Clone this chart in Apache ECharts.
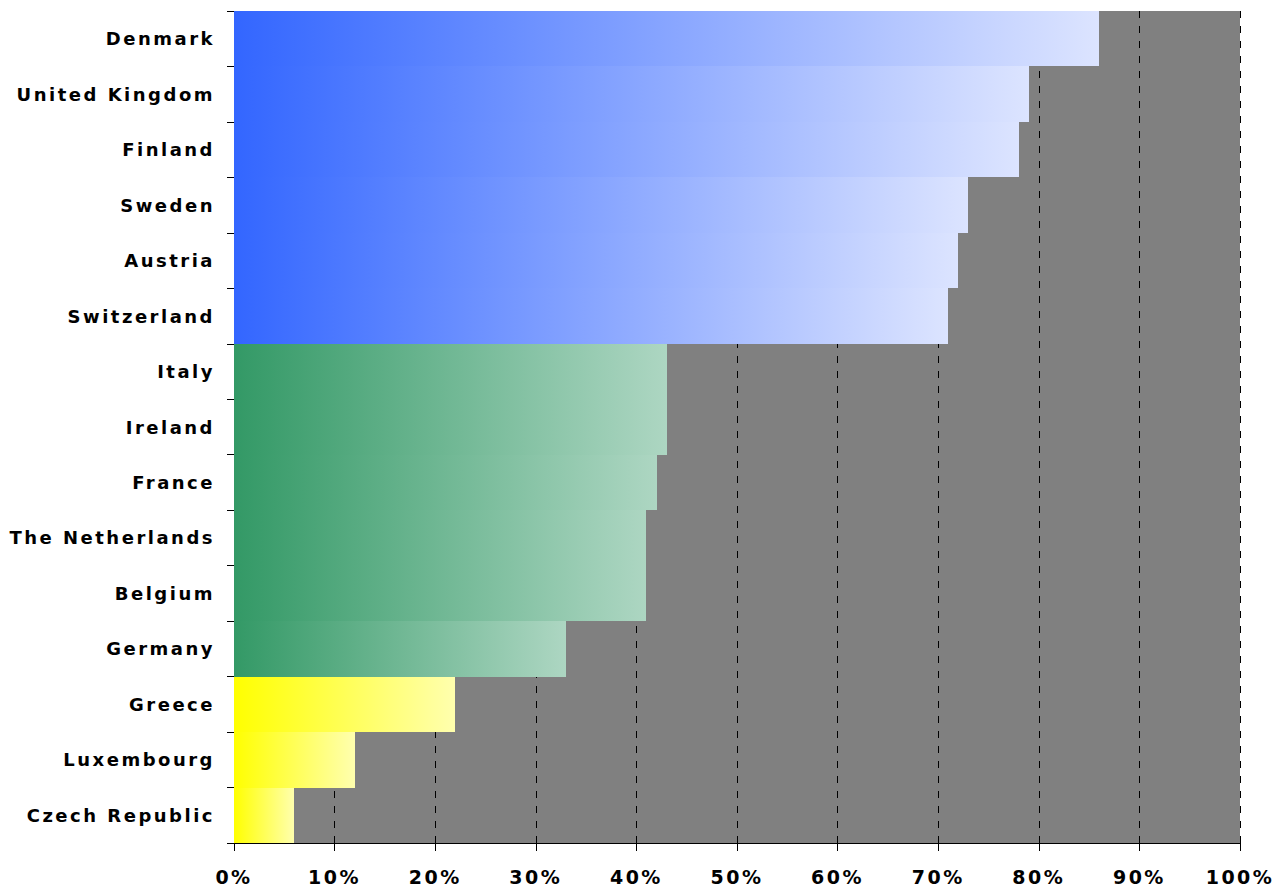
<!DOCTYPE html>
<html>
<head>
<meta charset="utf-8">
<script src="https://cdn.jsdelivr.net/npm/echarts@6/dist/echarts.min.js"></script>
<style>
  html, body { margin: 0; padding: 0; background: #ffffff; }
  #chart { width: 1277px; height: 889px; }
  /* wide, spaced-out lettering for the axis labels */
  #chart text { letter-spacing: 2.5px; }
  /* no hairline seams between touching bars */
  #chart path { shape-rendering: crispEdges; }
</style>
</head>
<body>
<div id="chart"></div>
<script>
// Countries, top to bottom
const countries = [
  'Denmark', 'United Kingdom', 'Finland', 'Sweden', 'Austria', 'Switzerland',
  'Italy', 'Ireland', 'France', 'The Netherlands', 'Belgium', 'Germany',
  'Greece', 'Luxembourg', 'Czech Republic'
];
// Share per country, in percent
const shares = [86, 79, 78, 73, 72, 71, 43, 43, 42, 41, 41, 33, 22, 12, 6];
// Colour group per country
const groups = [
  'high', 'high', 'high', 'high', 'high', 'high',
  'mid', 'mid', 'mid', 'mid', 'mid', 'mid',
  'low', 'low', 'low'
];
// Percentage axis ticks
const percentTicks = [0, 10, 20, 30, 40, 50, 60, 70, 80, 90, 100];

const groupColors = {
  high: ['#3366FF', '#DCE4FF'],
  mid:  ['#339966', '#ADD6C2'],
  low:  ['#FFFF00', '#FFFFAE']
};

const chart = echarts.init(document.getElementById('chart'), null, { renderer: 'svg' });

const barData = shares.map((v, i) => {
  const c = groupColors[groups[i]];
  return {
    value: v,
    itemStyle: {
      color: new echarts.graphic.LinearGradient(0, 0, 1, 0, [
        { offset: 0, color: c[0] },
        { offset: 1, color: c[1] }
      ])
    }
  };
});

const labelFont = {
  color: '#000000',
  fontFamily: 'DejaVu Sans',
  fontWeight: 'bold'
};

chart.setOption({
  animation: false,
  backgroundColor: '#ffffff',
  grid: {
    left: 234,
    right: 37,
    top: 11,
    bottom: 46,
    show: true,
    backgroundColor: '#808080',
    borderWidth: 0
  },
  xAxis: {
    type: 'value',
    min: percentTicks[0],
    max: percentTicks[percentTicks.length - 1],
    interval: percentTicks[1] - percentTicks[0],
    axisLine: { show: true, lineStyle: { color: '#000000', width: 1 } },
    axisTick: { show: true, length: 8, lineStyle: { color: '#000000', width: 1 } },
    axisLabel: Object.assign({ fontSize: 19, margin: 24, formatter: '{value}%' }, labelFont),
    splitLine: {
      show: true,
      lineStyle: { color: '#000000', width: 1, type: [7, 8] }
    }
  },
  yAxis: {
    type: 'category',
    data: countries,
    inverse: true,
    axisLine: { show: true, lineStyle: { color: '#000000', width: 1 } },
    axisTick: { show: true, length: 7, lineStyle: { color: '#000000', width: 1 } },
    axisLabel: Object.assign({ fontSize: 18, margin: 19 }, labelFont),
    splitLine: { show: false }
  },
  series: [{
    type: 'bar',
    data: barData,
    barWidth: '100%',
    barCategoryGap: 0,
    z: 2
  }]
});
</script>
</body>
</html>
